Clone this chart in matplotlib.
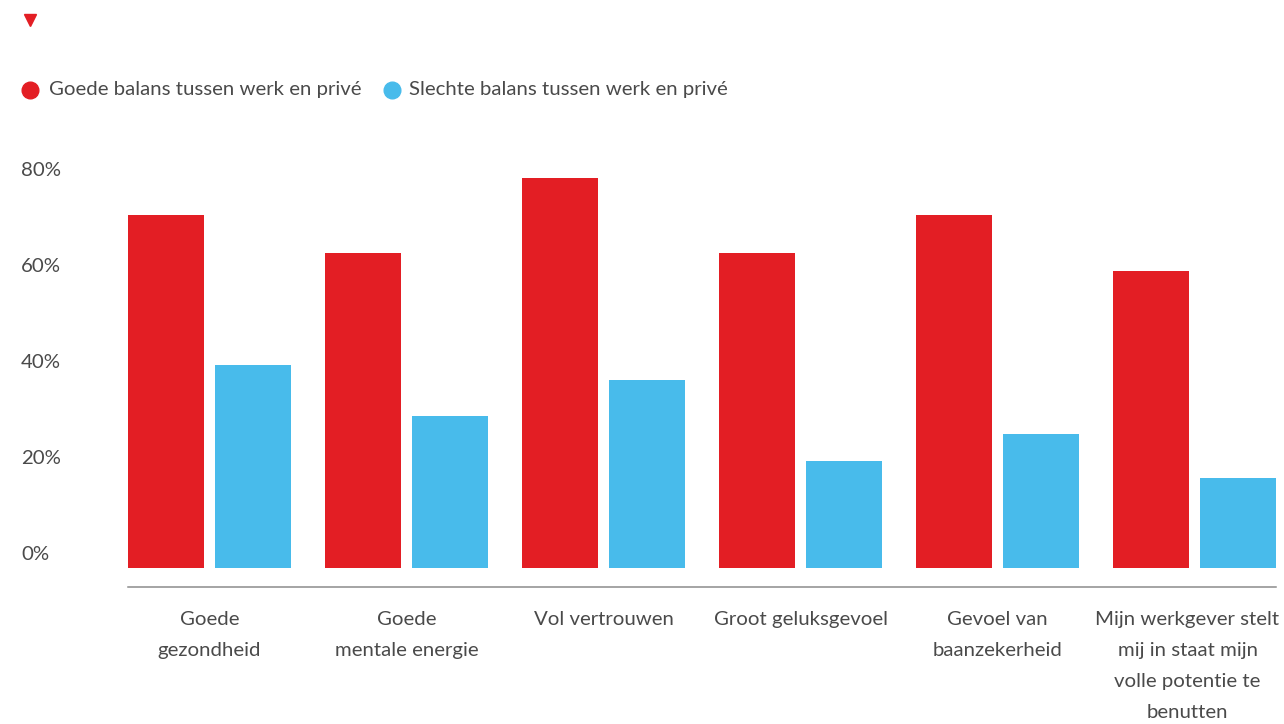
import matplotlib
matplotlib.use("Agg")
import matplotlib.pyplot as plt
import matplotlib.transforms as mtransforms
from matplotlib.lines import Line2D
import numpy as np

plt.rcParams['font.family'] = ['Lato', 'DejaVu Sans']

categories = [
    "Goede\ngezondheid",
    "Goede\nmentale energie",
    "Vol vertrouwen",
    "Groot geluksgevoel",
    "Gevoel van\nbaanzekerheid",
    "Mijn werkgever stelt\nmij in staat mijn\nvolle potentie te\nbenutten",
]
goede_balans = [73.5, 65.6, 81.3, 65.6, 73.5, 61.9]
slechte_balans = [42.3, 31.7, 39.2, 22.3, 27.9, 18.8]
series_names = ["Goede balans tussen werk en privé", "Slechte balans tussen werk en privé"]
y_ticks = [0, 20, 40, 60, 80]
y_tick_labels = ["0%", "20%", "40%", "60%", "80%"]

RED = "#E31E24"
BLUE = "#48BBEB"
TEXT = "#4a4a4a"
FS = 14.7

W, H = 1284, 724
fig = plt.figure(figsize=(W / 100, H / 100), dpi=100)

# axes: x from 128px to 1276px, y baseline at 568px from top
ymax = 85
px_per_unit = 4.8
ax_left, ax_right = 128, 1276
base_y = 568
ax = fig.add_axes([ax_left / W, (H - base_y) / H, (ax_right - ax_left) / W, ymax * px_per_unit / H])

x = np.arange(len(categories))
group_pitch = 197.0
bar_w = 76 / group_pitch
offset = (5.5 + 38) / group_pitch
half_group = 81.5 / group_pitch

ax.bar(x - offset, goede_balans, width=bar_w, color=RED, linewidth=0)
ax.bar(x + offset, slechte_balans, width=bar_w, color=BLUE, linewidth=0)
ax.set_xlim(-half_group, len(categories) - 1 + half_group)
ax.set_ylim(0, ymax)

for side in ['left', 'right', 'top']:
    ax.spines[side].set_visible(False)
ax.spines['bottom'].set_position(('outward', 19 * 0.72))
ax.spines['bottom'].set_color('#8c8c8c')
ax.spines['bottom'].set_linewidth(1.1)
ax.set_xticks([])
ax.set_yticks([])

# y labels sit just above their value
ylab_tr = mtransforms.blended_transform_factory(fig.transFigure, ax.transData) + \
    mtransforms.ScaledTranslation(0, 14 / 100, fig.dpi_scale_trans)
for v, lab in zip(y_ticks, y_tick_labels):
    fig.text(21 / W, v, lab, transform=ylab_tr, ha='left', va='center',
             fontsize=FS, color=TEXT)

# category labels below the axis line; the last one is kept inside the canvas
for i, (xi, lab) in enumerate(zip(x, categories)):
    dx = -7 if i == len(categories) - 1 else 0
    cat_tr = ax.transData + mtransforms.ScaledTranslation(dx / 100, -43 / 100, fig.dpi_scale_trans)
    ax.text(xi, 0, lab, transform=cat_tr, ha='center', va='top', fontsize=FS,
            color=TEXT, linespacing=2.0)

# legend row
leg_y = 1 - 90 / H
fig.add_artist(Line2D([30 / W], [leg_y], marker='o', markersize=12, color=RED,
                      linestyle='none', transform=fig.transFigure))
fig.text(49 / W, leg_y, series_names[0], ha='left', va='center', fontsize=FS,
         color=TEXT)
fig.add_artist(Line2D([392 / W], [leg_y], marker='o', markersize=12, color=BLUE,
                      linestyle='none', transform=fig.transFigure))
fig.text(409 / W, leg_y, series_names[1], ha='left', va='center', fontsize=FS,
         color=TEXT)

# small marker at top left
fig.add_artist(Line2D([30 / W], [1 - 20 / H], marker='v', markersize=9, color=RED,
                      linestyle='none', transform=fig.transFigure))

fig.savefig("out.png", dpi=100, facecolor='white')
